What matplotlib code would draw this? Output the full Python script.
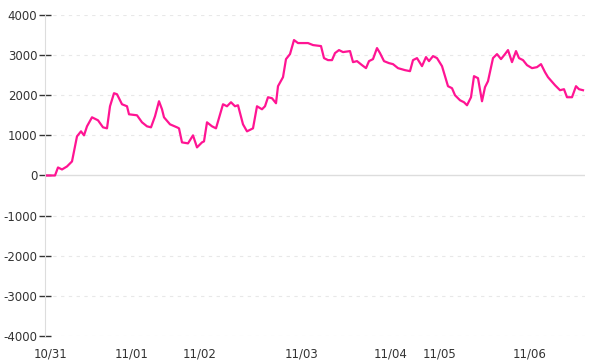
import matplotlib
matplotlib.use("Agg")
import matplotlib.pyplot as plt

# sample index (time steps since start) and value
t = [0, 8, 11, 15, 20, 25, 28, 30, 34, 37, 40, 45, 51, 56, 60, 63, 67, 70, 75, 80,
     82, 90, 95, 100, 104, 108, 112, 115, 117, 123, 130, 132, 135, 141, 146, 150, 155, 157,
     160, 165, 169, 176, 180, 184, 188, 191, 196, 200, 206, 210, 215, 218, 221, 225, 229,
     231, 236, 239, 243, 247, 251, 261, 266, 274, 277, 281, 285, 288, 292, 296, 303, 306,
     310, 315, 319, 322, 326, 330, 333, 337, 342, 346, 351, 358, 363, 366, 370, 375, 379,
     382, 386, 390, 395, 398, 401, 405, 408, 413, 417, 420, 424, 427, 431, 435, 438, 441,
     444, 446, 450, 454, 458, 461, 465, 469, 472, 476, 480, 485, 490, 494, 498, 501, 508,
     513, 517, 520, 525, 529, 532, 536]
values = [0, 0, 200, 150, 225, 350, 725, 975, 1100, 1000, 1225, 1450, 1375, 1200, 1175,
          1725, 2050, 2025, 1775, 1725, 1525, 1500, 1325, 1225, 1200, 1475, 1850, 1650, 1450,
          1275, 1200, 1175, 825, 800, 1000, 700, 825, 850, 1325, 1225, 1175, 1775, 1725, 1825,
          1725, 1750, 1275, 1100, 1175, 1725, 1650, 1725, 1950, 1925, 1800, 2225, 2450, 2900,
          3025, 3375, 3300, 3300, 3250, 3225, 2925, 2875, 2875, 3050, 3125, 3075, 3100, 2825,
          2850, 2750, 2675, 2850, 2900, 3175, 3050, 2850, 2800, 2775, 2675, 2625, 2600, 2875,
          2925, 2725, 2950, 2850, 2975, 2925, 2725, 2475, 2225, 2175, 2000, 1875, 1825, 1750,
          1950, 2475, 2425, 1850, 2200, 2350, 2700, 2925, 3025, 2900, 3025, 3125, 2825, 3100,
          2925, 2875, 2750, 2675, 2700, 2775, 2575, 2450, 2250, 2125, 2150, 1950, 1950, 2225,
          2150, 2125]

day_ticks = [4, 85, 153, 255, 344, 393, 483]
day_labels = ["10/31", "11/01", "11/02", "11/03", "11/04", "11/05", "11/06"]

plt.rcParams["axes.unicode_minus"] = False

fig = plt.figure(figsize=(6, 3.6), dpi=100)
ax = fig.add_axes([0.075, 0.0667, 0.9, 0.8917])

ax.plot(t, values, color="#ff1493", linewidth=1.6, zorder=3)

ax.set_xlim(-2, 538)
ax.set_ylim(-4000, 4000)
ax.set_yticks(range(-4000, 4001, 1000))
ax.set_xticks(day_ticks)
ax.set_xticklabels(day_labels)

for yv in range(-4000, 4001, 1000):
    if yv == 0:
        ax.axhline(0, color="#dddddd", linewidth=1, zorder=1)
    else:
        ax.axhline(yv, color="#e8e8e8", linewidth=0.8, linestyle=(0, (3, 4)), zorder=1)

for s in ["top", "right", "bottom"]:
    ax.spines[s].set_visible(False)
ax.spines["left"].set_color("#dddddd")

ax.tick_params(axis="y", direction="inout", length=9, width=1, color="#333333",
               labelsize=8.5, labelcolor="#333333", pad=1)
ax.tick_params(axis="x", length=0, labelsize=8.5, labelcolor="#333333", pad=8)

fig.savefig("out.png", dpi=100)
